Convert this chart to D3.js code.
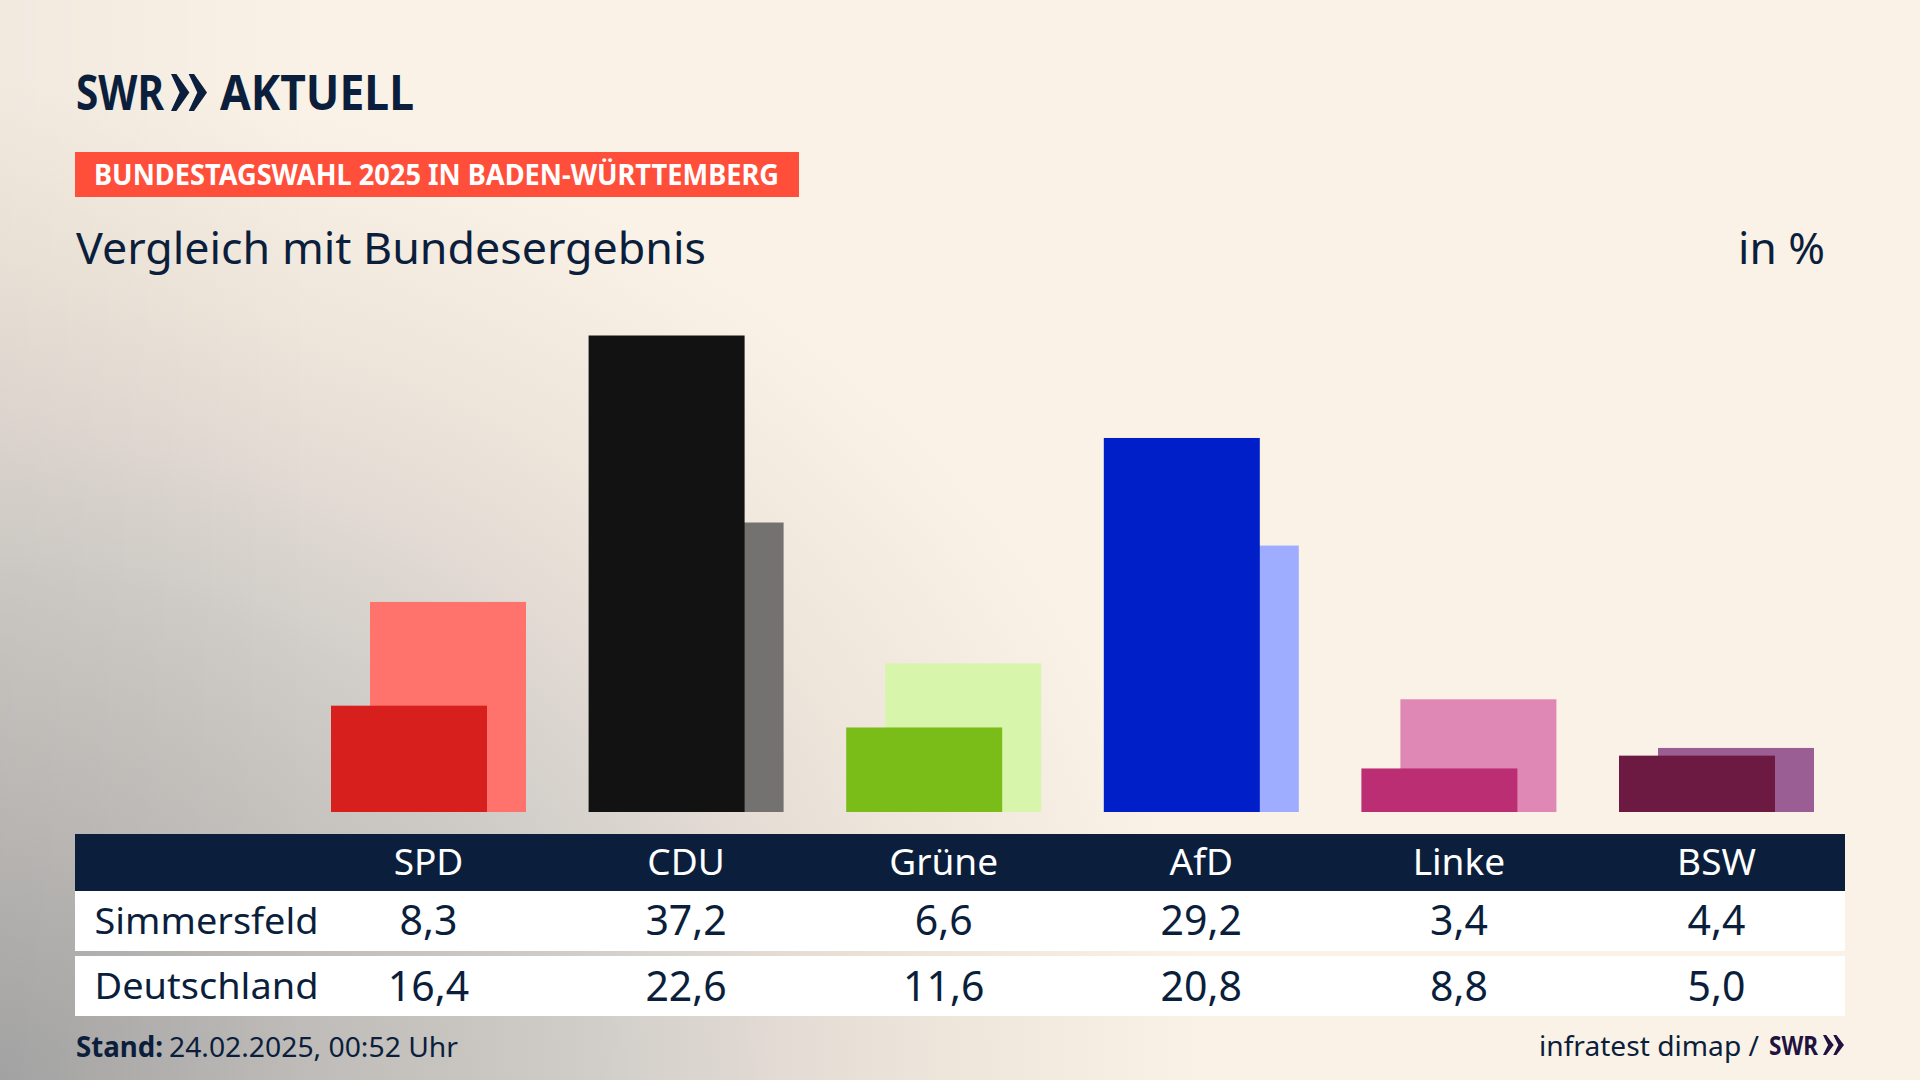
<!DOCTYPE html>
<html>
<head>
<meta charset="utf-8">
<title>Vergleich mit Bundesergebnis</title>
<script src="https://cdn.jsdelivr.net/npm/d3@7"></script>
<style>
html,body{margin:0;padding:0;background:#faf2e7;overflow:hidden;}
text{font-family:"Noto Sans",sans-serif;}
</style>
</head>
<body>
<script>
var parties = ["SPD","CDU","Grüne","AfD","Linke","BSW"];
var simmersfeld = [8.3,37.2,6.6,29.2,3.4,4.4];
var deutschland = [16.4,22.6,11.6,20.8,8.8,5.0];
var darkColors = ["#d7201e","#121212","#7abd19","#001fc8","#bc2e74","#6c1a42"];
var lightColors = ["#ff736c","#737270","#d7f5ab","#9eadff","#df87b5","#9b5e94"];

var width = 1920, height = 1080,
	navy = "#0b1f3c",
	barWidth = 156, barShift = 39;

var x = d3.scalePoint().domain(parties).range([428.5,1716.5]);
var y = d3.scaleLinear().domain([0,37.2]).range([812,335.5]);
var fmt = function(v){ return v.toFixed(1).replace(".",","); };

var svg = d3.select("body").append("svg")
	.attr("width",width)
	.attr("height",height)
	.style("display","block");

// background: cream with a grey glow out of the lower left corner
var defs = svg.append("defs");
var grad = defs.append("radialGradient")
	.attr("id","bg")
	.attr("gradientUnits","userSpaceOnUse")
	.attr("cx",0).attr("cy",0).attr("r",1)
	.attr("gradientTransform","translate(0,1080) scale(1200,1000)");
[[0,"#a8a8a8"],[0.25,"#bebbb8"],[0.5,"#d1cec9"],[0.67,"#e5dcd5"],[0.83,"#f1e8dd"],[1,"#faf2e7"]].forEach(function(s){
	grad.append("stop").attr("offset",s[0]).attr("stop-color",s[1]);
});
// the left edge stays a little darker all the way up
var edge = defs.append("linearGradient").attr("id","edge");
edge.append("stop").attr("offset",0).attr("stop-color","#000").attr("stop-opacity",0.035);
edge.append("stop").attr("offset",1).attr("stop-color","#000").attr("stop-opacity",0);

svg.append("rect").attr("width",width).attr("height",height).attr("fill","url(#bg)");
svg.append("rect").attr("width",320).attr("height",height).attr("fill","url(#edge)");

function label(px,py,str,size,opt){
	opt = opt || {};
	var t = svg.append("text")
		.attr("x",px).attr("y",py)
		.attr("font-size",size)
		.attr("fill",opt.fill || navy)
		.attr("font-weight",opt.weight || 400)
		.attr("text-anchor",opt.anchor || "start")
		.text(str);
	if(opt.len){
		t.attr("textLength",opt.len).attr("lengthAdjust","spacingAndGlyphs");
	}
	return t;
}

function chevrons(px,py,w,h,fill){
	// two arrowheads of the station logo, the tip of the first reaches past the start of the second
	var one = w*0.51, end = w*0.15, notch = w*0.24;
	[0,w-one].forEach(function(dx){
		svg.append("path")
			.attr("fill",fill)
			.attr("d",d3.line()([
				[px+dx,py],[px+dx+end,py],[px+dx+one,py+h/2],
				[px+dx+end,py+h],[px+dx,py+h],[px+dx+notch,py+h/2]
			])+"Z");
	});
}

// header
label(76,110,"SWR",49,{weight:700,len:88});
chevrons(171,74,36,37,navy);
label(220,110,"AKTUELL",49,{weight:700,len:194});

svg.append("rect").attr("x",75).attr("y",152).attr("width",724).attr("height",45).attr("fill","#ff4f3b");
label(94,185,"BUNDESTAGSWAHL 2025 IN BADEN-WÜRTTEMBERG",28,{fill:"#fff",weight:700,len:685});

label(76,264,"Vergleich mit Bundesergebnis",44,{len:630});
label(1825,264,"in %",44,{anchor:"end",len:87});

// bars, national result behind, local result in front
svg.selectAll("rect.light")
	.data(deutschland)
	.enter()
	.append("rect")
	.attr("class","light")
	.attr("x",function(d,i){ return x(parties[i])-barWidth/2+barShift/2; })
	.attr("y",function(d){ return y(d); })
	.attr("width",barWidth)
	.attr("height",function(d){ return y(0)-y(d); })
	.attr("fill",function(d,i){ return lightColors[i]; });

svg.selectAll("rect.dark")
	.data(simmersfeld)
	.enter()
	.append("rect")
	.attr("class","dark")
	.attr("x",function(d,i){ return x(parties[i])-barWidth/2-barShift/2; })
	.attr("y",function(d){ return y(d); })
	.attr("width",barWidth)
	.attr("height",function(d){ return y(0)-y(d); })
	.attr("fill",function(d,i){ return darkColors[i]; });

// table
svg.append("rect").attr("x",75).attr("y",834).attr("width",1770).attr("height",57).attr("fill",navy);
svg.append("rect").attr("x",75).attr("y",891).attr("width",1770).attr("height",60).attr("fill","#fff");
svg.append("rect").attr("x",75).attr("y",956).attr("width",1770).attr("height",60).attr("fill","#fff");

parties.forEach(function(p,i){
	label(x(p),875,p,37,{fill:"#fff",anchor:"middle"});
	label(x(p),935,fmt(simmersfeld[i]),41,{anchor:"middle"});
	label(x(p),1001,fmt(deutschland[i]),41,{anchor:"middle"});
});
label(94.5,934,"Simmersfeld",36,{len:224});
label(94.5,999,"Deutschland",36,{len:224});

// footer
label(76,1057,"Stand:",28,{weight:700,len:87});
label(169,1057,"24.02.2025, 00:52 Uhr",28,{len:289});
label(1539,1056,"infratest dimap /",28,{len:220});
label(1769,1055,"SWR",27,{fill:"#21123f",weight:700,len:49});
chevrons(1823,1035,21,20,"#21123f");
</script>
</body>
</html>
